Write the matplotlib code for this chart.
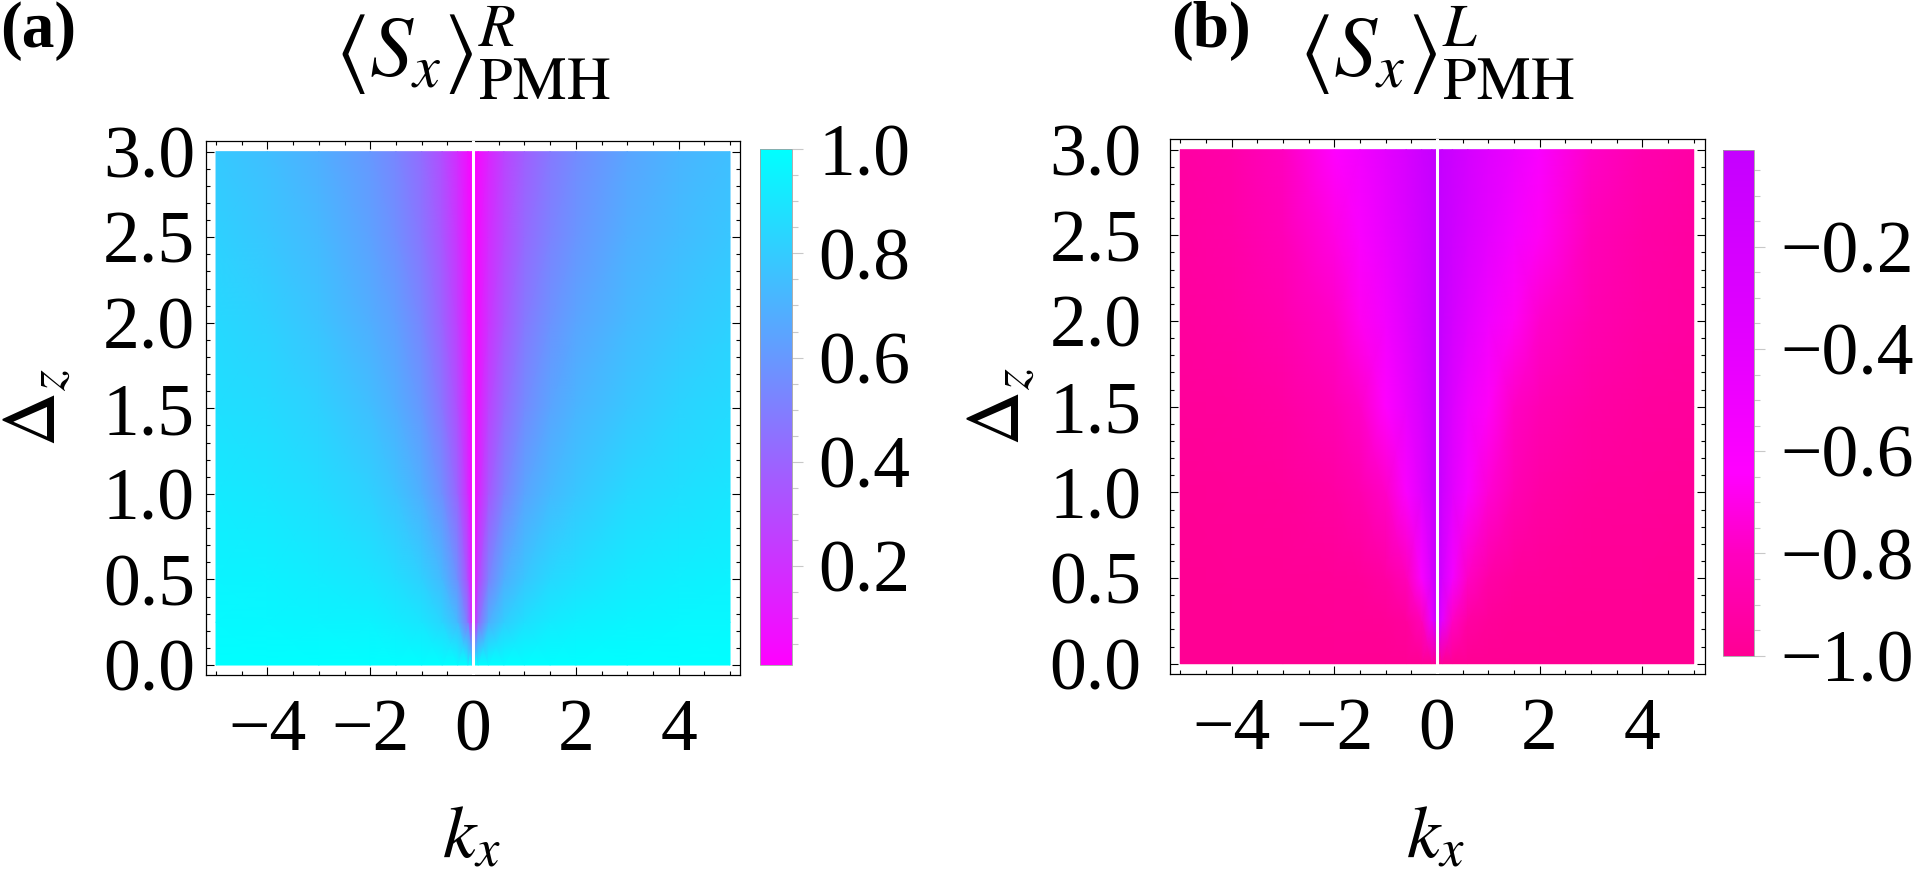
import numpy as np
import matplotlib
matplotlib.use("Agg")
import matplotlib.pyplot as plt
from matplotlib.colors import LinearSegmentedColormap
from matplotlib.ticker import MultipleLocator

plt.rcParams['font.family'] = ['Liberation Serif', 'DejaVu Serif']
plt.rcParams['mathtext.fontset'] = 'stix'

W, H = 1916, 873

# grid
kx = [-5, -4, -3, -2, -1.5, -1, -0.6, -0.3, -0.1, -0.02,
      0.02, 0.1, 0.3, 0.6, 1, 1.5, 2, 3, 4, 5]
dz = [0, 0.25, 0.5, 1.0, 1.5, 2.0, 2.5, 3.0]

# panel (a): <Sx>^R_PMH, one row per dz value
sx_R = [
    [1.00] * 20,
    [.98, .97, .96, .95, .93, .90, .84, .73, .47, .15, .13, .42, .69, .81, .88, .92, .94, .96, .97, .97],
    [.96, .95, .93, .90, .87, .82, .73, .57, .31, .08, .07, .27, .52, .69, .78, .85, .88, .92, .94, .95],
    [.92, .90, .87, .82, .77, .69, .57, .40, .18, .04, .04, .15, .35, .52, .65, .73, .78, .85, .88, .90],
    [.88, .86, .82, .75, .69, .60, .47, .31, .13, .03, .02, .11, .27, .42, .55, .65, .71, .78, .83, .86],
    [.85, .82, .77, .69, .63, .53, .40, .25, .10, .02, .02, .08, .21, .35, .48, .58, .65, .73, .78, .82],
    [.82, .78, .73, .64, .57, .47, .35, .21, .08, .02, .01, .07, .18, .30, .42, .52, .59, .69, .74, .78],
    [.79, .75, .69, .60, .53, .43, .31, .18, .07, .02, .01, .06, .15, .27, .38, .48, .55, .65, .71, .75],
]

# panel (b): <Sx>^L_PMH
sx_L = [
    [-1.00] * 20,
    [-1.00, -1.00, -1.00, -.99, -.99, -.98, -.95, -.83, -.45, -.10, -.09, -.40, -.79, -.93, -.97, -.99, -.99, -1.00, -1.00, -1.00],
    [-1.00, -.99, -.99, -.98, -.97, -.93, -.83, -.60, -.24, -.05, -.04, -.21, -.54, -.79, -.91, -.96, -.97, -.99, -.99, -1.00],
    [-.99, -.98, -.97, -.93, -.88, -.78, -.60, -.35, -.12, -.03, -.02, -.13, -.36, -.58, -.75, -.86, -.92, -.96, -.97, -.98],
    [-.97, -.96, -.93, -.86, -.78, -.64, -.45, -.24, -.08, -.02, -.02, -.10, -.30, -.50, -.66, -.79, -.86, -.92, -.95, -.96],
    [-.95, -.93, -.88, -.78, -.68, -.53, -.35, -.18, -.06, -.01, -.01, -.06, -.20, -.36, -.52, -.67, -.77, -.87, -.92, -.94],
    [-.94, -.91, -.84, -.71, -.60, -.45, -.29, -.15, -.05, -.01, -.01, -.04, -.13, -.25, -.40, -.55, -.67, -.83, -.91, -.94],
    [-.93, -.90, -.80, -.64, -.53, -.39, -.24, -.12, -.04, -.01, -.01, -.04, -.11, -.21, -.34, -.47, -.60, -.78, -.88, -.92],
]

cmap_R = LinearSegmentedColormap.from_list('mc', [(1, 0, 1), (0, 1, 1)])
cmap_L = LinearSegmentedColormap.from_list('pk', [
    (0.0, (1.0, 0.0, 0.58)),
    (0.2, (1.0, 0.0, 0.75)),
    (0.36, (1.0, 0.0, 1.0)),
    (0.6, (0.9, 0.0, 1.0)),
    (1.0, (0.77, 0.0, 1.0)),
])


def box(x0, y0, x1, y1):
    return [x0 / W, 1 - y1 / H, (x1 - x0) / W, (y1 - y0) / H]


fig = plt.figure(figsize=(W / 100, H / 100), dpi=100)

panels = [
    dict(vals=sx_R, cmap=cmap_R, vmin=0.01, vmax=1.0,
         frame=(206, 140.7, 740.3, 675.3), xlim=(-5.195, 5.2), ylim=(-0.06, 3.064),
         cbar=(760.3, 149.3, 791.7, 664.7), cticks=[0.2, 0.4, 0.6, 0.8, 1.0],
         ypad=8, tag_x=0, title_x=473,
         title=r'$\langle S_x\rangle^{R}_{\mathrm{PMH}}$', tag='(a)'),
    dict(vals=sx_L, cmap=cmap_L, vmin=-1.0, vmax=-0.01,
         frame=(1169.5, 138.7, 1704.5, 674.0), xlim=(-5.21, 5.21), ylim=(-0.06, 3.064),
         cbar=(1723.3, 149.6, 1754.0, 655.7), cticks=[-1.0, -0.8, -0.6, -0.4, -0.2],
         ypad=20, tag_x=1171, title_x=1437,
         title=r'$\langle S_x\rangle^{L}_{\mathrm{PMH}}$', tag='(b)'),
]

X, Y = np.meshgrid(kx, dz)
for p in panels:
    ax = fig.add_axes(box(*p['frame']))
    mesh = ax.pcolormesh(X, Y, np.array(p['vals']), cmap=p['cmap'],
                         vmin=p['vmin'], vmax=p['vmax'], shading='gouraud')
    ax.axvline(0, color='white', lw=2.2, zorder=3)
    ax.set_xlim(*p['xlim'])
    ax.set_ylim(*p['ylim'])
    ax.set_xticks([-4, -2, 0, 2, 4])
    ax.set_yticks([0, 0.5, 1.0, 1.5, 2.0, 2.5, 3.0])
    ax.set_yticklabels(['0.0', '0.5', '1.0', '1.5', '2.0', '2.5', '3.0'])
    ax.xaxis.set_minor_locator(MultipleLocator(0.5))
    ax.yaxis.set_minor_locator(MultipleLocator(0.1))
    ax.tick_params(which='both', direction='in', top=True, right=True,
                   width=0.8, color='black', labelsize=53)
    ax.tick_params(which='major', length=6)
    ax.tick_params(which='minor', length=3.2)
    ax.tick_params(axis='x', pad=17)
    ax.tick_params(axis='y', pad=p['ypad'])
    for s in ax.spines.values():
        s.set_linewidth(0.9)

    fx0, fy0, fx1, fy1 = p['frame']
    fw, fh = fx1 - fx0, fy1 - fy0
    ax.text(-168 / fw, 0.5, r'$\Delta_z$', transform=ax.transAxes, rotation=90,
            ha='center', va='center', fontsize=55)
    ax.text(0.497, (fy1 - 858) / fh, r'$k_x$', transform=ax.transAxes,
            ha='center', va='baseline', fontsize=54)

    cax = fig.add_axes(box(*p['cbar']))
    cb = fig.colorbar(mesh, cax=cax)
    cb.set_ticks(p['cticks'])
    cb.set_ticklabels(['%.1f' % t if t >= 0 else '\u2212%.1f' % -t for t in p['cticks']])
    cax.yaxis.set_minor_locator(MultipleLocator(0.05))
    cax.tick_params(which='both', direction='out', color='#c8c8c8', width=0.8,
                    labelsize=53, pad=11)
    cax.tick_params(which='major', length=8)
    cax.tick_params(which='minor', length=4.3)
    cb.outline.set_edgecolor('#a0a0a0')
    cb.outline.set_linewidth(0.6)

    fig.text(p['title_x'] / W, 1 - 77 / H, p['title'], ha='center', va='baseline', fontsize=62)
    fig.text(p['tag_x'] / W, 1 - 1 / H, p['tag'], ha='left', va='top',
             fontsize=47, fontweight='bold')

fig.savefig('out.png', dpi=100)
